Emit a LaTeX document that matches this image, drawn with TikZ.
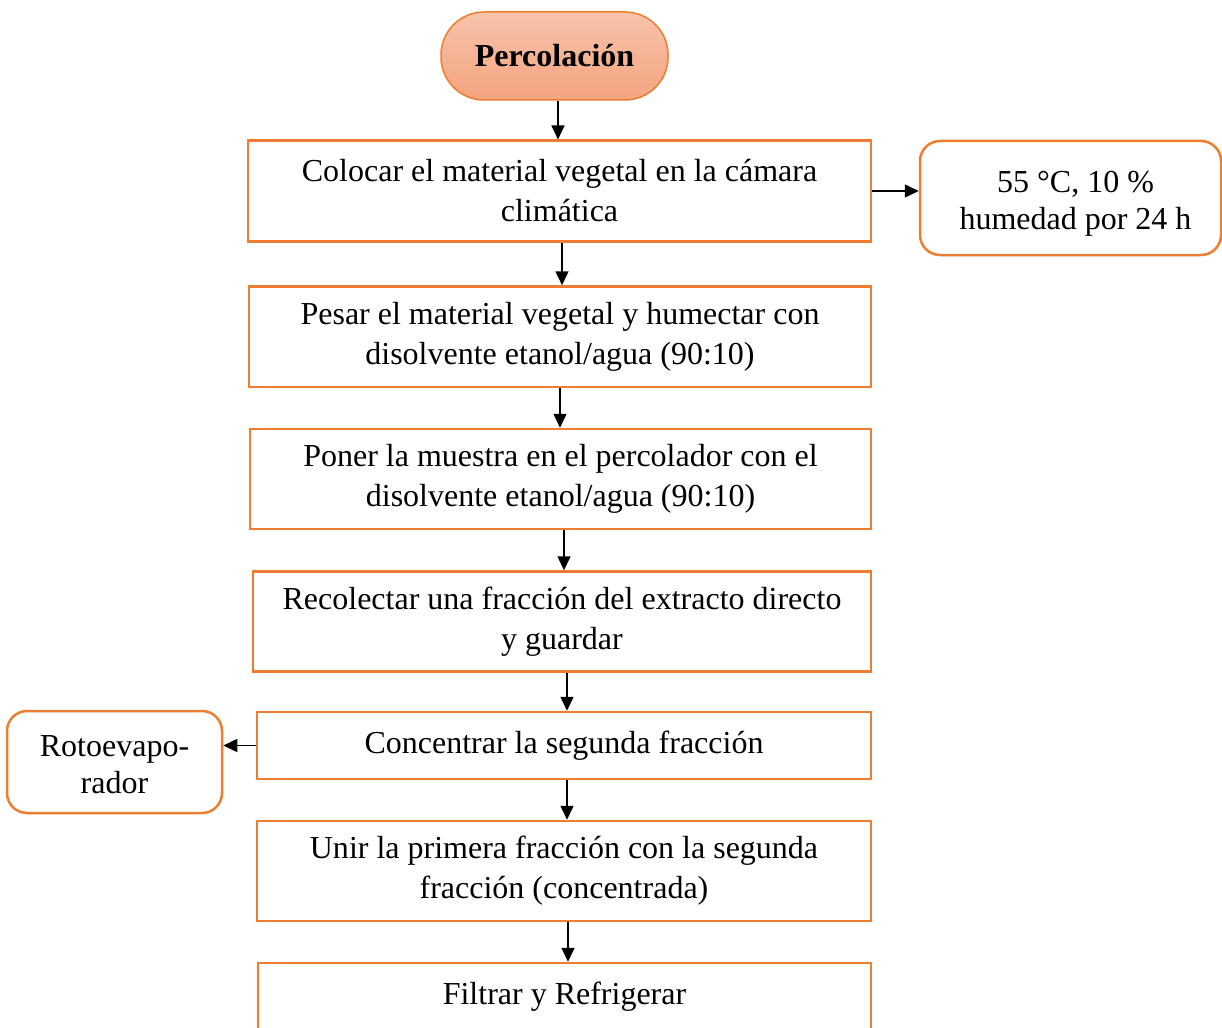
\documentclass[tikz,border=0pt]{standalone}
\usepackage{fontspec}
\setmainfont{Liberation Serif}
\usetikzlibrary{arrows.meta}
\definecolor{borange}{HTML}{ED7D31}
\definecolor{ptop}{HTML}{F7C3AB}
\definecolor{pbot}{HTML}{F4A47F}
\newcommand{\topfix}{\rule{0pt}{35pt}}
\newcommand{\botfix}{\rule[-9pt]{0pt}{9pt}}
\begin{document}
\begin{tikzpicture}[x=1pt,y=-1pt,
  box/.style={draw=borange,line width=2.5pt,inner sep=0pt,align=center,
    font=\fontsize{32}{40}\selectfont},
  rbox/.style={box,rounded corners=20pt,font=\fontsize{32}{37}\selectfont},
  pill/.style={draw=borange,line width=1.5pt,rounded corners=43pt,inner sep=0pt,
    top color=ptop,bottom color=pbot,font=\bfseries\fontsize{32}{40}\selectfont},
  arr/.style={line width=1.5pt,-{Triangle[length=14pt,width=13pt]}}]
\useasboundingbox (0,0) rectangle (1222,1027);
\node[pill,minimum width=227pt,minimum height=88pt] (perc) at (554.5,56) {Percolación};
\node[box,minimum width=623pt,minimum height=100.5pt] (b1) at (559.5,191)
  {Colocar el material vegetal en la cámara\\climática};
\node[rbox,minimum width=301pt,minimum height=114pt] (side) at (1070.5,198)
  {\topfix\hspace*{10pt}55 °C, 10 \%\\\hspace*{10pt}humedad por 24 h\botfix};
\node[box,minimum width=622pt,minimum height=100.5pt] (b2) at (560,336.75)
  {Pesar el material vegetal y humectar con\\disolvente etanol/agua (90:10)};
\node[box,minimum width=621pt,minimum height=100pt] (b3) at (560.5,479)
  {Poner la muestra en el percolador con el\\disolvente etanol/agua (90:10)};
\node[box,minimum width=618pt,minimum height=100pt] (b4) at (562,621.5)
  {Recolectar una fracción del extracto directo\\y guardar};
\node[box,minimum width=614pt,minimum height=67pt] (b5) at (564,745.5)
  {Concentrar la segunda fracción};
\node[rbox,minimum width=215pt,minimum height=102pt] (roto) at (114.5,762)
  {\topfix Rotoevapo-\\rador\botfix};
\node[box,minimum width=614pt,minimum height=100pt] (b6) at (564,871)
  {Unir la primera fracción con la segunda\\fracción (concentrada)};
\node[box,minimum width=613pt,minimum height=67pt] (b7) at (564.5,996.5)
  {Filtrar y Refrigerar};
\draw[arr] ([xshift=3.5pt]perc.south) -- ([xshift=3.5pt]perc.south |- b1.north);
\draw[arr] ([xshift=2.5pt]b1.south) -- ([xshift=2.5pt]b1.south |- b2.north);
\draw[arr] (b2.south) -- (b2.south |- b3.north);
\draw[arr] ([xshift=3.5pt]b3.south) -- ([xshift=3.5pt]b3.south |- b4.north);
\draw[arr] ([xshift=5pt]b4.south) -- ([xshift=5pt]b4.south |- b5.north);
\draw[arr] ([xshift=3pt]b5.south) -- ([xshift=3pt]b5.south |- b6.north);
\draw[arr] ([xshift=4pt]b6.south) -- ([xshift=4pt]b6.south |- b7.north);
\draw[arr] (b1.east) -- (b1.east -| side.west);
\draw[arr] (b5.west) -- (b5.west -| roto.east);
\end{tikzpicture}
\end{document}
